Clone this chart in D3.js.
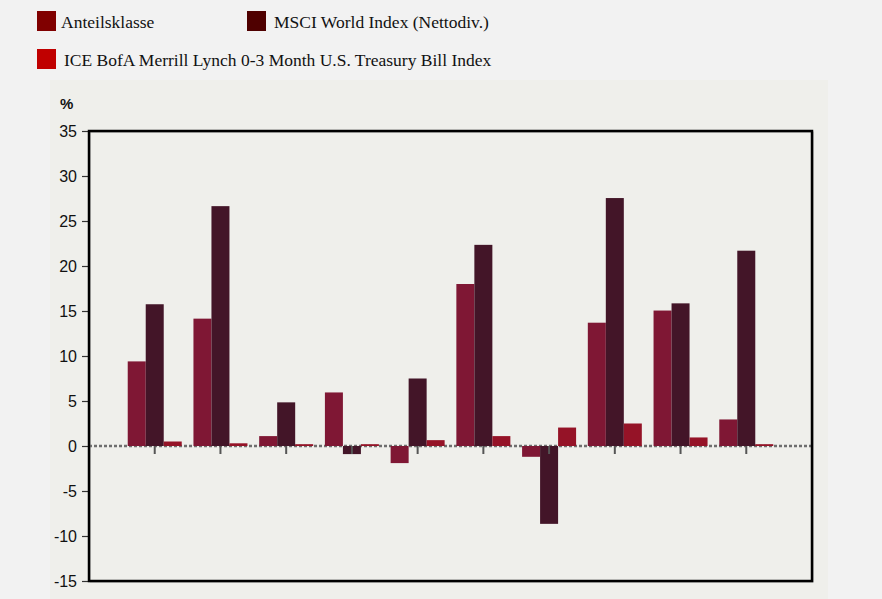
<!DOCTYPE html>
<html>
<head>
<meta charset="utf-8">
<script src="https://cdn.jsdelivr.net/npm/d3@7"></script>
<style>
  html, body { margin: 0; padding: 0; background: #f2f2f2; }
  svg { display: block; }
</style>
</head>
<body>
<svg id="chart" width="882" height="599"></svg>
<script>
// ---- data ----
const categories = ["1", "2", "3", "4", "5", "6", "7", "8", "9", "10"];
const seriesNames = ["Anteilsklasse", "MSCI World Index (Nettodiv.)", "ICE BofA Merrill Lynch 0-3 Month U.S. Treasury Bill Index"];
const anteilsklasse = [9.4, 14.15, 1.1, 5.95, -1.9, 18.0, -1.2, 13.7, 15.05, 2.95];
const msciWorld = [15.75, 26.65, 4.85, -0.9, 7.5, 22.35, -8.65, 27.55, 15.85, 21.7];
const iceBofa = [0.5, 0.3, 0.2, 0.2, 0.65, 1.1, 2.05, 2.5, 0.95, 0.2];
const yTicks = [-15, -10, -5, 0, 5, 10, 15, 20, 25, 30, 35];
const legendColors = ["#800000", "#4f0000", "#c00000"];
const barColors = ["#7f1734", "#431528", "#951327"];

const seriesValues = [anteilsklasse, msciWorld, iceBofa];

const svg = d3.select("#chart");

// background panels
svg.append("rect").attr("x", 0).attr("y", 0).attr("width", 882).attr("height", 599).attr("fill", "#f2f2f2");
svg.append("rect").attr("x", 50).attr("y", 80).attr("width", 778).attr("height", 519).attr("fill", "#efefeb");

const plotLeft = 89, plotRight = 812, plotTop = 131, plotBottom = 581;

const y = d3.scaleLinear().domain([-15, 35]).range([plotBottom, plotTop]);
const xPos = d3.scalePoint().domain(d3.range(categories.length + 2)).range([plotLeft, plotRight]);
const x = i => xPos(i + 1);
const barW = 18;

// zero line
svg.append("line")
  .attr("x1", plotLeft).attr("x2", plotRight)
  .attr("y1", y(0)).attr("y2", y(0))
  .attr("stroke", "#6e6e6e").attr("stroke-width", 2.5)
  .attr("stroke-dasharray", "3,2");

// bars
seriesValues.forEach((vals, s) => {
  svg.append("g").selectAll("rect").data(vals).join("rect")
    .attr("x", (d, i) => x(i) - 1.5 * barW + s * barW)
    .attr("width", barW)
    .attr("y", d => y(Math.max(0, d)))
    .attr("height", d => Math.abs(y(d) - y(0)))
    .attr("fill", barColors[s]);
});

// category ticks on zero line
svg.append("g").selectAll("line").data(categories).join("line")
  .attr("x1", (d, i) => x(i)).attr("x2", (d, i) => x(i))
  .attr("y1", y(0)).attr("y2", y(0) + 8)
  .attr("stroke", "#555").attr("stroke-width", 2);

// y axis
const yAxis = d3.axisLeft(y).tickValues(yTicks).tickSize(7).tickPadding(5).tickFormat(d => String(d));
const gy = svg.append("g").attr("transform", `translate(${plotLeft},0)`).call(yAxis);
gy.select(".domain").remove();
gy.selectAll(".tick line").attr("stroke", "#333").attr("stroke-width", 1.2);
gy.selectAll(".tick text")
  .attr("font-family", "'Liberation Sans', Arial, sans-serif")
  .attr("font-size", 16).attr("fill", "#111")
  .attr("dy", "0.36em");

svg.append("text").attr("x", 60).attr("y", 109)
  .attr("font-family", "'Liberation Sans', Arial, sans-serif")
  .attr("font-size", 15).attr("font-weight", "bold").attr("fill", "#111")
  .text("%");

// frame
svg.append("rect").attr("x", plotLeft).attr("y", plotTop).attr("width", plotRight - plotLeft).attr("height", plotBottom - plotTop)
  .attr("fill", "none").attr("stroke", "#9a9a9a").attr("stroke-width", 1)
  .attr("transform", "translate(1,1)");
svg.append("rect").attr("x", plotLeft).attr("y", plotTop).attr("width", plotRight - plotLeft).attr("height", plotBottom - plotTop)
  .attr("fill", "none").attr("stroke", "#000").attr("stroke-width", 2.5);

// legend
const legendPos = [[37, 11], [247, 11], [37, 49]];
const legendTextOffset = [24, 27, 27];
const lg = svg.append("g").selectAll("g").data(seriesNames).join("g")
  .attr("transform", (d, i) => `translate(${legendPos[i][0]},${legendPos[i][1]})`);
lg.append("rect").attr("width", 19).attr("height", 20).attr("fill", (d, i) => legendColors[i]);
lg.append("text").attr("x", (d, i) => legendTextOffset[i]).attr("y", 17)
  .attr("font-family", "'Liberation Serif', 'Times New Roman', serif")
  .attr("font-size", 17.5).attr("fill", "#111")
  .text(d => d);
</script>
</body>
</html>
